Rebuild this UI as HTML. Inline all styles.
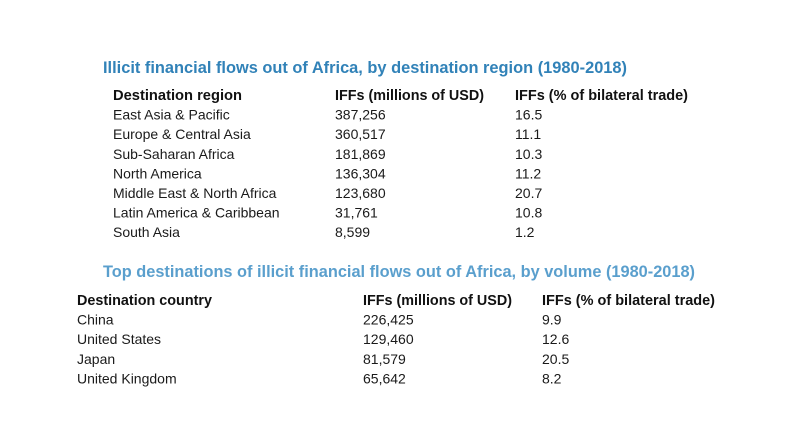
<!DOCTYPE html>
<html><head><meta charset="utf-8"><style>
html,body{margin:0;padding:0;background:#fff;}
svg{display:block;font-family:"Liberation Sans",sans-serif;}
.h{font-weight:bold;fill:#111;font-size:15px;}
.c{fill:#1a1a1a;font-size:14px;}
</style></head><body>
<svg id="s" width="800" height="438" viewBox="0 0 800 438">
<rect width="800" height="438" fill="#fff"/>
<text x="103" y="73" font-size="17" font-weight="bold" fill="#3182b8" textLength="524" lengthAdjust="spacingAndGlyphs">Illicit financial flows out of Africa, by destination region (1980-2018)</text>
<text x="103" y="277" font-size="17" font-weight="bold" fill="#5a9fcd" textLength="592" lengthAdjust="spacingAndGlyphs">Top destinations of illicit financial flows out of Africa, by volume (1980-2018)</text>
</svg>
<script>
const regions=["East Asia & Pacific","Europe & Central Asia","Sub-Saharan Africa","North America","Middle East & North Africa","Latin America & Caribbean","South Asia"];
const regionIFF=["387,256","360,517","181,869","136,304","123,680","31,761","8,599"];
const regionPct=["16.5","11.1","10.3","11.2","20.7","10.8","1.2"];
const countries=["China","United States","Japan","United Kingdom"];
const countryIFF=["226,425","129,460","81,579","65,642"];
const countryPct=["9.9","12.6","20.5","8.2"];
const headers1=["Destination region","IFFs (millions of USD)","IFFs (% of bilateral trade)"];
const headers2=["Destination country","IFFs (millions of USD)","IFFs (% of bilateral trade)"];
const NS="http://www.w3.org/2000/svg";
const svg=document.getElementById("s");
function txt(x,y,s,cls,name,len){
  const t=document.createElementNS(NS,"text");
  t.setAttribute("x",x);t.setAttribute("y",y);t.setAttribute("class",cls);
  if(len){t.setAttribute("textLength",len);t.setAttribute("lengthAdjust","spacingAndGlyphs");}
  t.textContent=s;
  
  
  svg.appendChild(t);
}
function table(cols,y0,step,headers,hLens,c1,c2,c3,prefix){
  headers.forEach((h,i)=>txt(cols[i],y0,h,"h",prefix+"-header-"+(i+1),hLens[i]));
  c1.forEach((v,i)=>{
    const y=y0+step*(i+1);
    txt(cols[0],y,v,"c",prefix+"-name-"+(i+1));
    txt(cols[1],y,c2[i],"c",prefix+"-iff-"+(i+1));
    txt(cols[2],y,c3[i],"c",prefix+"-pct-"+(i+1));
  });
}
table([113,335,515],100,19.6,headers1,[129,149,173],regions,regionIFF,regionPct,"region");
table([77,363,542],305,19.6,headers2,[135,149,173],countries,countryIFF,countryPct,"country");
</script>
</body></html>
